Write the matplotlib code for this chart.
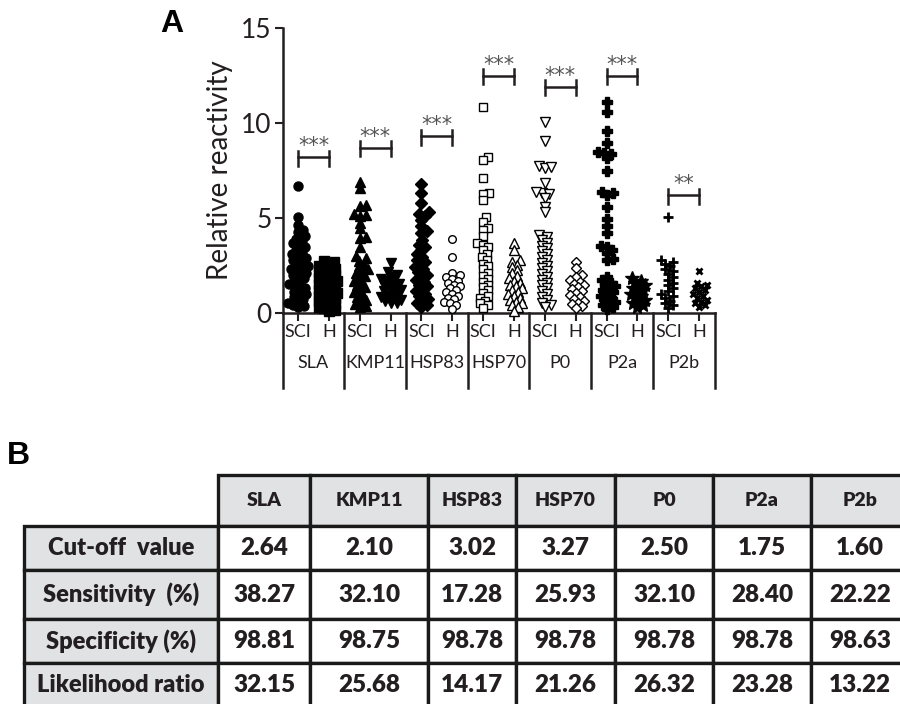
import numpy as np
import matplotlib
matplotlib.use('Agg')
import matplotlib.pyplot as plt
import matplotlib.transforms as mtransforms
from matplotlib.patches import Rectangle

# ---- data ----
antigens = ['SLA', 'KMP11', 'HSP83', 'HSP70', 'P0', 'P2a', 'P2b']
groups = ['SCI', 'H']

sla_sci = [6.7, 5.05, 4.62, 4.38, 4.25, 4.05, 3.92, 3.8, 3.66, 3.55, 3.47, 3.3, 3.22, 3.1,
           2.98, 2.9, 2.78, 2.7, 2.55, 2.48, 2.4, 2.3, 2.22, 2.1, 2.02, 1.95, 1.82, 1.75,
           1.6, 1.52, 1.45, 1.33, 1.25, 1.12, 1.0, 0.95, 0.82, 0.74, 0.6, 0.52, 0.44, 0.36, 0.3]
sla_h = [2.72, 2.68, 2.55, 2.5, 2.4, 2.32, 2.25, 2.15, 2.05, 1.98, 1.9, 1.82, 1.75, 1.66,
         1.6, 1.52, 1.45, 1.38, 1.3, 1.22, 1.15, 1.05, 1.0, 0.92, 0.85, 0.78, 0.7, 0.62,
         0.55, 0.48, 0.4, 0.33, 0.25, 0.18, 0.1]
kmp_sci = [6.9, 6.6, 5.7, 5.62, 5.2, 5.15, 5.08, 4.75, 4.45, 4.0, 3.95, 3.5, 3.0, 2.88,
           2.75, 2.6, 2.45, 2.3, 2.2, 2.1, 1.95, 1.85, 1.7, 1.6, 1.45, 1.35, 1.2, 1.1,
           0.95, 0.85, 0.7, 0.6, 0.45, 0.35, 0.3]
kmp_h = [2.62, 2.15, 2.0, 1.9, 1.8, 1.7, 1.62, 1.55, 1.45, 1.38, 1.3, 1.22, 1.15, 1.08,
         1.0, 0.92, 0.85, 0.78, 0.7, 0.62, 0.55, 0.5]
hsp83_sci = [6.8, 6.3, 5.8, 5.3, 5.2, 5.1, 4.9, 4.6, 4.3, 4.2, 3.85, 3.6, 3.5, 3.3, 3.1,
             2.95, 2.8, 2.7, 2.55, 2.4, 2.3, 2.15, 2.0, 1.9, 1.75, 1.65, 1.5, 1.4, 1.25,
             1.15, 1.0, 0.9, 0.75, 0.65, 0.5, 0.4, 0.3]
hsp83_h = [3.9, 2.95, 2.1, 1.98, 1.88, 1.8, 1.7, 1.58, 1.5, 1.42, 1.3, 1.22, 1.1, 1.02,
           0.92, 0.8, 0.72, 0.6, 0.5, 0.42, 0.2]
hsp70_sci = [10.85, 8.2, 8.05, 7.1, 6.3, 6.25, 5.95, 5.05, 4.8, 4.5, 4.35, 4.05, 3.7, 3.6,
             3.45, 3.3, 3.1, 2.95, 2.8, 2.6, 2.45, 2.3, 2.1, 1.95, 1.8, 1.65, 1.5, 1.35,
             1.2, 1.05, 0.9, 0.8, 0.65, 0.5, 0.4, 0.25]
hsp70_h = [3.7, 3.3, 2.8, 2.7, 2.55, 2.4, 2.25, 2.1, 1.95, 1.85, 1.7, 1.6, 1.5, 1.4, 1.3,
           1.2, 1.1, 1.0, 0.9, 0.8, 0.7, 0.6, 0.5, 0.4, 0.3, 0.1]
p0_sci = [10.05, 9.05, 7.72, 7.65, 7.68, 6.85, 6.3, 6.35, 6.25, 6.05, 5.6, 5.3, 4.1, 4.0,
          3.85, 3.7, 3.55, 3.4, 3.25, 3.1, 2.95, 2.8, 2.65, 2.5, 2.35, 2.2, 2.05, 1.9,
          1.75, 1.6, 1.45, 1.3, 1.15, 1.0, 0.85, 0.7, 0.55, 0.4, 0.3]
p0_h = [2.7, 2.35, 2.0, 1.9, 1.75, 1.65, 1.55, 1.45, 1.35, 1.25, 1.15, 1.05, 0.95, 0.85,
        0.75, 0.65, 0.55, 0.45, 0.35, 0.25]
p2a_sci = [11.1, 10.6, 9.6, 8.95, 8.45, 8.4, 8.35, 8.15, 7.45, 6.35, 6.3, 6.2, 5.6, 4.95,
           4.6, 4.2, 3.55, 3.45, 3.3, 3.15, 2.85, 2.8, 1.9, 1.75, 1.6, 1.5, 1.4, 1.3, 1.2,
           1.1, 1.0, 0.9, 0.8, 0.7, 0.6, 0.5, 0.4, 0.3, 0.2]
p2a_h = [1.85, 1.7, 1.6, 1.5, 1.4, 1.3, 1.2, 1.1, 1.0, 0.9, 0.8, 0.7, 0.6, 0.5, 0.4, 0.3]
p2b_sci = [5.05, 2.8, 2.7, 2.6, 2.45, 2.3, 2.2, 2.05, 1.9, 1.75, 1.6, 1.45, 1.3, 1.15,
           1.0, 0.9, 0.8, 0.65, 0.5, 0.4, 0.25]
p2b_h = [2.2, 1.6, 1.5, 1.4, 1.3, 1.2, 1.1, 1.0, 0.9, 0.8, 0.7, 0.6, 0.5, 0.4, 0.3]

columns = [sla_sci, sla_h, kmp_sci, kmp_h, hsp83_sci, hsp83_h, hsp70_sci, hsp70_h,
           p0_sci, p0_h, p2a_sci, p2a_h, p2b_sci, p2b_h]

sig_labels = ['***', '***', '***', '***', '***', '***', '**']
sig_heights = [8.2, 8.7, 9.3, 12.5, 11.9, 12.5, 6.2]

row_labels = ['Cut-off  value', 'Sensitivity  (%)', 'Specificity (%)', 'Likelihood ratio']
cutoff = ['2.64', '2.10', '3.02', '3.27', '2.50', '1.75', '1.60']
sensitivity = ['38.27', '32.10', '17.28', '25.93', '32.10', '28.40', '22.22']
specificity = ['98.81', '98.75', '98.78', '98.78', '98.78', '98.78', '98.63']
likelihood = ['32.15', '25.68', '14.17', '21.26', '26.32', '23.28', '13.22']

# marker, filled, size
styles = [('o', True, 6.5), ('s', True, 6.5), ('^', True, 7.5), ('v', True, 7.5),
          ('D', True, 6), ('o', False, 5.5), ('s', False, 5.5), ('^', False, 6.5),
          ('v', False, 6.5), ('D', False, 5.5), ('P', True, 6.5), ('*', True, 10),
          ('+', True, 7), ('x', True, 4.5)]

plt.rcParams['font.family'] = ['Lato', 'DejaVu Sans']
ink = '#231f20'

fig = plt.figure(figsize=(9, 7.04), dpi=100)
ax_pos = [0.314, 0.5554, 0.48, 0.4048]
ax = fig.add_axes(ax_pos)

px_x = 900 * ax_pos[2] / 14.0
px_y = 704 * ax_pos[3] / 15.0


def swarm(vals, d=5.5, maxw=10):
    # simple beeswarm: offsets in pixels, turned into data units
    cands = [0.0]
    for k in range(1, maxw + 1):
        cands += [float(k), -float(k)]
    placed = []
    offs = {}
    order = np.argsort(vals)
    for i in order:
        y = vals[i] * px_y
        best, best_d = 0.0, -1
        for c in cands:
            md = min([np.hypot(c - px, y - py) for px, py in placed] or [99])
            if md >= d:
                best = c
                break
            if md > best_d:
                best, best_d = c, md
        placed.append((best, y))
        offs[i] = best / px_x
    return np.array([offs[i] for i in range(len(vals))])


for j, vals in enumerate(columns):
    vals = np.array(vals)
    xs = j + swarm(vals)
    m, filled, ms = styles[j]
    mfc = 'black' if filled else 'white'
    mew = 2.0 if m in ('+', 'x') else 1.0
    ax.plot(xs, vals, linestyle='none', marker=m, ms=ms, mfc=mfc, mec='black',
            mew=mew, clip_on=False, zorder=3)

# significance brackets
for i, (lab, h) in enumerate(zip(sig_labels, sig_heights)):
    x0, x1 = 2 * i, 2 * i + 1
    ax.plot([x0, x1], [h, h], color=ink, lw=1.8)
    ax.plot([x0, x0], [h - 0.45, h + 0.35], color=ink, lw=1.8)
    ax.plot([x1, x1], [h - 0.45, h + 0.35], color=ink, lw=1.8)
    ax.text(0.5 * (x0 + x1), h + 0.05, lab, ha='center', va='bottom',
            fontsize=15, color='#555555', family='DejaVu Sans')

ax.set_xlim(-0.5, 13.5)
ax.set_ylim(0, 15)
ax.set_yticks([0, 5, 10, 15])
ax.set_xticks(range(14))
ax.set_xticklabels(groups * 7)
ax.tick_params(axis='y', labelsize=19, width=1.5, length=6, colors=ink, pad=2)
ax.tick_params(axis='x', labelsize=13, width=1.5, length=6, colors=ink, pad=2)
for s in ['top', 'right']:
    ax.spines[s].set_visible(False)
for s in ['left', 'bottom']:
    ax.spines[s].set_linewidth(1.8)
    ax.spines[s].set_color(ink)
ax.set_ylabel('Relative reactivity', fontsize=20, color=ink, labelpad=6)

# group labels and separators below the axis
trans = mtransforms.blended_transform_factory(ax.transData, ax.transAxes)
for i, name in enumerate(antigens):
    ax.text(2 * i + 0.5, -0.175, name, transform=trans, ha='center', va='center',
            fontsize=13, color=ink)
for k in range(8):
    xb = 2 * k - 0.5
    ax.plot([xb, xb], [0, -0.263], transform=trans, color=ink, lw=1.8, clip_on=False)

fig.text(172 / 900, 1 - 24 / 704, 'A', fontsize=23, fontweight='bold',
         family='Liberation Sans', ha='center', va='center')
fig.text(18 / 900, 1 - 456 / 704, 'B', fontsize=23, fontweight='bold',
         family='Liberation Sans', ha='center', va='center')

# ---- panel B table ----
tab = fig.add_axes([0, 0, 1, 1])
tab.set_xlim(0, 900)
tab.set_ylim(704, 0)
tab.axis('off')

col_w = [194, 92, 118, 88, 99, 98, 98, 98]
row_h = [51, 44, 49, 44, 44]
x_edges = np.concatenate([[24], 24 + np.cumsum(col_w)])
y_edges = np.concatenate([[475], 475 + np.cumsum(row_h)])
gray = '#e1e2e4'
body = [cutoff, sensitivity, specificity, likelihood]

for r in range(5):
    for c in range(8):
        if r == 0 and c == 0:
            continue
        x0, x1 = x_edges[c], x_edges[c + 1]
        y0, y1 = y_edges[r], y_edges[r + 1]
        fc = gray if (r == 0 or c == 0) else 'white'
        tab.add_patch(Rectangle((x0, y0), x1 - x0, y1 - y0, facecolor=fc,
                                edgecolor='#1a1a1a', lw=2.4, clip_on=False))
        if r == 0:
            txt, fs = antigens[c - 1], 14
        elif c == 0:
            txt, fs = row_labels[r - 1], 17
        else:
            txt, fs = body[r - 1][c - 1], 17.5
        tab.text(0.5 * (x0 + x1), 0.5 * (y0 + y1), txt, ha='center', va='center',
                 fontsize=fs, fontweight='heavy', color=ink)

fig.savefig('out.png', dpi=100)
